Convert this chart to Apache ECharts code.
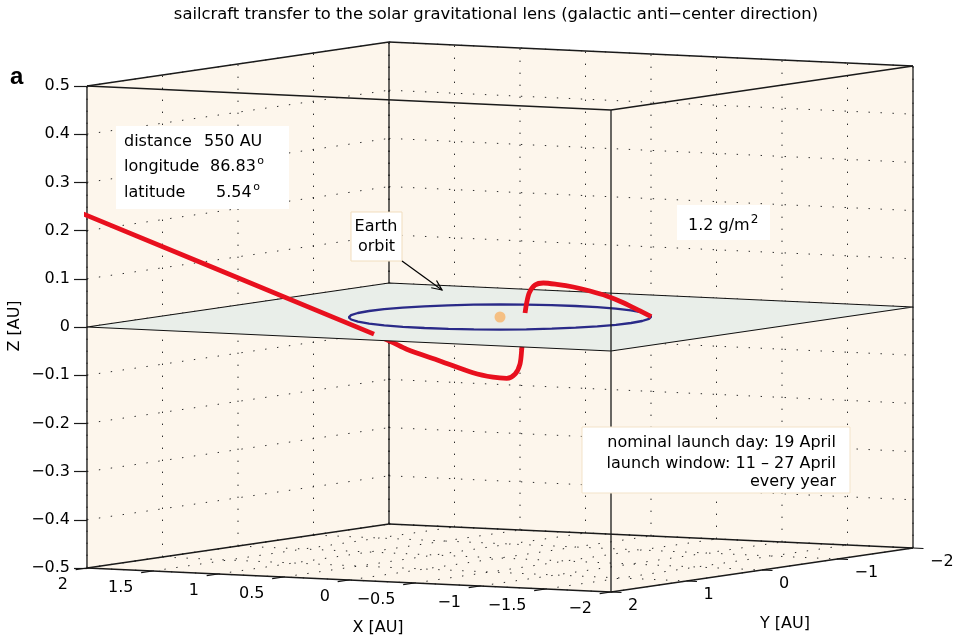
<!DOCTYPE html>
<html><head><meta charset="utf-8">
<script src="https://cdn.jsdelivr.net/npm/echarts@6/dist/echarts.min.js"></script>
<style>html,body{margin:0;padding:0;background:#fff}#c{width:957px;height:641px}</style>
</head><body><div id="c"></div><script>
// ---------------- data ----------------
const titleText = 'sailcraft transfer to the solar gravitational lens (galactic anti\u2212center direction)';
const xLim = [-2, 2], yLim = [-2, 2], zLim = [-0.5, 0.5];
const zTicks = [-0.5, -0.4, -0.3, -0.2, -0.1, 0, 0.1, 0.2, 0.3, 0.4, 0.5];
const xTicks = [2, 1.5, 1, 0.5, 0, -0.5, -1, -1.5, -2];
const yTicks = [2, 1, 0, -1, -2];
// Earth orbit (1 AU circle in the ecliptic plane)
const orbitX = [1,0.985,0.94,0.866,0.766,0.643,0.5,0.342,0.174,0,-0.174,-0.342,-0.5,-0.643,-0.766,-0.866,-0.94,-0.985,-1,-0.985,-0.94,-0.866,-0.766,-0.643,-0.5,-0.342,-0.174,0,0.174,0.342,0.5,0.643,0.766,0.866,0.94,0.985,1];
const orbitY = [0,0.174,0.342,0.5,0.643,0.766,0.866,0.94,0.985,1,0.985,0.94,0.866,0.766,0.643,0.5,0.342,0.174,0,-0.174,-0.342,-0.5,-0.643,-0.766,-0.866,-0.94,-0.985,-1,-0.985,-0.94,-0.866,-0.766,-0.643,-0.5,-0.342,-0.174,0];
const sunPos = [0, 0, 0];
// sailcraft trajectory [AU]
const trajX = [-0.866,-0.70,-0.56,-0.44,-0.34,-0.25,-0.17,-0.10,-0.06,-0.03,-0.005,0.014,0.02,0.03,0.04,0.06,0.09,0.12,0.14,0.12,0.09,0.07,0.05,0.16,0.27];
const trajY = [-0.5,-0.640,-0.662,-0.650,-0.602,-0.537,-0.456,-0.400,-0.360,-0.336,-0.345,-0.356,-0.346,-0.340,-0.334,-0.303,-0.245,-0.116,0.115,0.587,1.080,1.296,1.582,3.58,5.58];
const trajZ = [0,0.0066,0.0215,0.0342,0.0444,0.0531,0.0595,0.0627,0.0589,0.0431,0.0219,0,-0.0371,-0.0751,-0.1057,-0.1262,-0.1339,-0.1291,-0.1148,-0.0793,-0.0435,-0.0245,0,0.186,0.372];
const targetInfo = [['distance', '550 AU', ''], ['longitude', '86.83', 'o'], ['latitude', '5.54', 'o']];
const sailLoading = ['1.2 g/m', '2'];
const launchInfo = ['nominal launch day: 19 April', 'launch window: 11 \u2013 27 April', 'every year'];

// ---------------- orthographic camera ----------------
const VIEW = { ux: 131, uy: 75.5, vx: 6, vy: 11, vz: 482 };
function P(X, Y, Z) {
  return [VIEW.ux * (xLim[1] - X) + VIEW.uy * (yLim[1] - Y),
          Z + (VIEW.vx * (X - xLim[1]) - VIEW.vy * (Y - yLim[1])) / VIEW.vz];
}
const U_MAX = VIEW.ux * (xLim[1] - xLim[0]) + VIEW.uy * (yLim[1] - yLim[0]);
const FONT = '"DejaVu Sans"';
const fmt = v => { const r = Math.round(v * 10) / 10; return r === 0 ? '0' : String(r).replace('-', '\u2212'); };

// ---------------- geometry built from the data ----------------
const [x0, x1] = xLim, [y0, y1] = yLim, [z0, z1] = zLim;
const walls = [
  [[x1,y1,z0],[x1,y0,z0],[x1,y0,z1],[x1,y1,z1]],
  [[x1,y0,z0],[x0,y0,z0],[x0,y0,z1],[x1,y0,z1]],
  [[x1,y1,z0],[x0,y1,z0],[x0,y0,z0],[x1,y0,z0]]
].map(p => p.map(q => P(...q)));
const plane = [[[x1,y1,0],[x0,y1,0],[x0,y0,0],[x1,y0,0]].map(q => P(...q))];

const seg = (a, b) => { const p = P(...a), q = P(...b); return [p[0], p[1], q[0], q[1]]; };
const gridSegs = [];
zTicks.forEach(z => { gridSegs.push(seg([x1,y1,z],[x1,y0,z])); gridSegs.push(seg([x1,y0,z],[x0,y0,z])); });
yTicks.forEach(y => { gridSegs.push(seg([x1,y,z0],[x1,y,z1])); gridSegs.push(seg([x1,y,z0],[x0,y,z0])); });
xTicks.forEach(x => { gridSegs.push(seg([x,y0,z0],[x,y0,z1])); gridSegs.push(seg([x,y1,z0],[x,y0,z0])); });

const backEdges = [
  seg([x1,y1,z0],[x0,y1,z0]), seg([x0,y1,z0],[x0,y0,z0]), seg([x0,y0,z0],[x1,y0,z0]), seg([x1,y0,z0],[x1,y1,z0]),
  seg([x1,y1,z1],[x0,y1,z1]), seg([x0,y1,z1],[x0,y0,z1]), seg([x0,y0,z1],[x1,y0,z1]), seg([x1,y0,z1],[x1,y1,z1]),
  seg([x1,y1,z0],[x1,y1,z1]), seg([x0,y0,z0],[x0,y0,z1]), seg([x1,y0,z0],[x1,y0,z1])
];
const frontEdges = [seg([x0,y1,z0],[x0,y1,z1])];
const tickSegs = [];
xTicks.forEach(x => tickSegs.push(seg([x,y1,z0],[x,y1+0.15,z0])));
yTicks.forEach(y => tickSegs.push(seg([x0,y,z0],[x0-0.08,y,z0])));

const tickTexts = [];
xTicks.forEach(x => { const p = P(x, y1, z0); tickTexts.push([p[0], p[1], fmt(x), 'right', -19, 17]); });
yTicks.forEach(y => { const p = P(x0, y, z0); tickTexts.push([p[0], p[1], fmt(y), 'left', 17, 13.5]); });

// trajectory split where it crosses the ecliptic plane
const traj = trajX.map((x, i) => [x, trajY[i], trajZ[i]]);
const trajSegs = [];
let cur = [traj[0]];
for (let i = 1; i < traj.length; i++) {
  cur.push(traj[i]);
  if (traj[i][2] === 0) { trajSegs.push(cur); cur = [traj[i]]; }
}
if (cur.length > 1) trajSegs.push(cur);

// ---------------- series helpers ----------------
function segSeries(segs, style, z) {
  return { type: 'custom', coordinateSystem: 'cartesian2d', z, silent: true, clip: false,
    data: segs, encode: { x: [0, 2], y: [1, 3] },
    renderItem: (params, api) => {
      const a = api.coord([api.value(0), api.value(1)]), b = api.coord([api.value(2), api.value(3)]);
      return { type: 'line', shape: { x1: a[0], y1: a[1], x2: b[0], y2: b[1] }, style: Object.assign({ fill: null }, style) };
    } };
}
function polySeries(polys, style, z) {
  return { type: 'custom', coordinateSystem: 'cartesian2d', z, silent: true, clip: false,
    data: polys.map(p => [p[0][0], p[0][1]]), encode: { x: 0, y: 1 },
    renderItem: (params, api) => ({ type: 'polygon',
      shape: { points: polys[params.dataIndex].map(q => api.coord(q)) }, style: Object.assign({}, style) }) };
}

const series = [];
series.push(polySeries(walls, { fill: '#FDF6EC' }, 1));
series.push(segSeries(gridSegs, { stroke: '#2a2a2a', lineWidth: 1, lineDash: [1.4, 10.6] }, 2));
series.push(segSeries(backEdges, { stroke: '#1a1a1a', lineWidth: 1.3 }, 3));
trajSegs.forEach(s => {
  const below = s.some(p => p[2] < 0);
  series.push({ type: 'line', z: below ? 4 : 8, clip: true, showSymbol: false, symbol: 'none', silent: true,
    smooth: s.length > 3 ? 0.3 : false,
    data: s.map(p => P(...p)), lineStyle: { color: '#E8101E', width: 4.8 } });
});
series.push(polySeries(plane, { fill: '#E9EEE9', stroke: '#111', lineWidth: 1.2 }, 5));
series.push({ type: 'line', z: 6, showSymbol: false, symbol: 'none', silent: true, clip: false,
  data: orbitX.map((x, i) => P(x, orbitY[i], 0)), lineStyle: { color: '#2A2A88', width: 2.3 } });
series.push({ type: 'scatter', z: 7, silent: true, symbolSize: 11, data: [P(...sunPos)], itemStyle: { color: '#F7B46A' } });
series.push(segSeries(frontEdges, { stroke: '#1a1a1a', lineWidth: 1.3 }, 7.5));
series.push(segSeries(tickSegs, { stroke: '#111', lineWidth: 1.2 }, 3));
series.push({ type: 'custom', coordinateSystem: 'cartesian2d', z: 10, silent: true, clip: false,
  data: tickTexts.map(t => [t[0], t[1]]), encode: { x: 0, y: 1 },
  renderItem: (params, api) => {
    const t = tickTexts[params.dataIndex]; const p = api.coord([t[0], t[1]]);
    return { type: 'text', x: p[0] + t[4], y: p[1] + t[5],
      style: { text: t[2], fill: '#000', font: '16px ' + FONT, align: t[3], verticalAlign: 'middle' } };
  } });

// ---------------- annotations ----------------
const mctx = document.createElement('canvas').getContext('2d');
const tw = (t, f) => { mctx.font = f; return mctx.measureText(t).width; };
const F16 = '16px ' + FONT;
const G = [];
const text = (x, y, t, align, font, extra) => G.push(Object.assign({ type: 'text', x, y, z: 100,
  style: { text: t, fill: '#000', font: font || F16, align: align || 'left', verticalAlign: 'middle' } }, extra || {}));
const rect = (x, y, w, h, stroke) => G.push({ type: 'rect', z: 90, shape: { x, y, width: w, height: h },
  style: { fill: '#fff', stroke: stroke || null, lineWidth: 1 } });

text(496, 15, titleText, 'center', '16.4px ' + FONT);
text(10, 77, 'a', 'left', 'bold 24px "Liberation Sans"');
text(15, 326, 'Z [AU]', 'center', null, { rotation: Math.PI / 2 });
text(378, 628, 'X [AU]', 'center');
text(785, 624, 'Y [AU]', 'center');

rect(116, 126, 173, 83);
const infoY = [141.7, 166.7, 193], infoX = [204, 210, 216];
targetInfo.forEach((r, i) => {
  text(124, infoY[i], r[0]);
  text(infoX[i], infoY[i], r[1]);
  if (r[2]) text(infoX[i] + tw(r[1], F16) + 1.5, infoY[i] - 6, r[2], 'left', '11px ' + FONT);
});

rect(351, 212, 51, 49, '#F1DDBD');
text(376, 226.5, 'Earth', 'center');
text(376.5, 247, 'orbit', 'center');
const ax0 = [402, 261], ax1 = [442, 290];
G.push({ type: 'line', z: 100, shape: { x1: ax0[0], y1: ax0[1], x2: ax1[0], y2: ax1[1] }, style: { stroke: '#000', lineWidth: 1.2 } });
(() => { const ang = Math.atan2(ax1[1] - ax0[1], ax1[0] - ax0[0]), L = 11, w = 0.42;
  G.push({ type: 'polyline', z: 100, shape: { points: [
    [ax1[0] - L * Math.cos(ang - w), ax1[1] - L * Math.sin(ang - w)], ax1,
    [ax1[0] - L * Math.cos(ang + w), ax1[1] - L * Math.sin(ang + w)]] },
    style: { stroke: '#000', lineWidth: 1.2, fill: null } }); })();

rect(677, 205, 93, 35);
text(688, 225.7, sailLoading[0]);
text(688 + tw(sailLoading[0], F16) + 1, 220, sailLoading[1], 'left', '12px ' + FONT);

rect(582, 427, 268, 66, '#F3E3C9');
const lY = [443.3, 464, 482];
launchInfo.forEach((t, i) => text(836, lY[i], t, 'right'));

const chart = echarts.init(document.getElementById('c'), null, { renderer: 'canvas', width: 957, height: 641 });
chart.setOption({
  animation: false,
  backgroundColor: '#fff',
  grid: { left: 87, right: 957 - 87 - U_MAX, top: 86, bottom: 73, containLabel: false },
  xAxis: { type: 'value', min: 0, max: U_MAX, show: false },
  yAxis: { type: 'value', min: zLim[0], max: zLim[1], interval: 0.1, splitLine: { show: false },
    axisLine: { show: true, lineStyle: { color: '#1a1a1a', width: 1.3 } },
    axisTick: { show: true, inside: false, length: 13, lineStyle: { color: '#1a1a1a', width: 1.2 } },
    axisLabel: { margin: 17, color: '#000', fontFamily: 'DejaVu Sans', fontSize: 16, formatter: fmt } },
  series,
  graphic: G
});
</script></body></html>
